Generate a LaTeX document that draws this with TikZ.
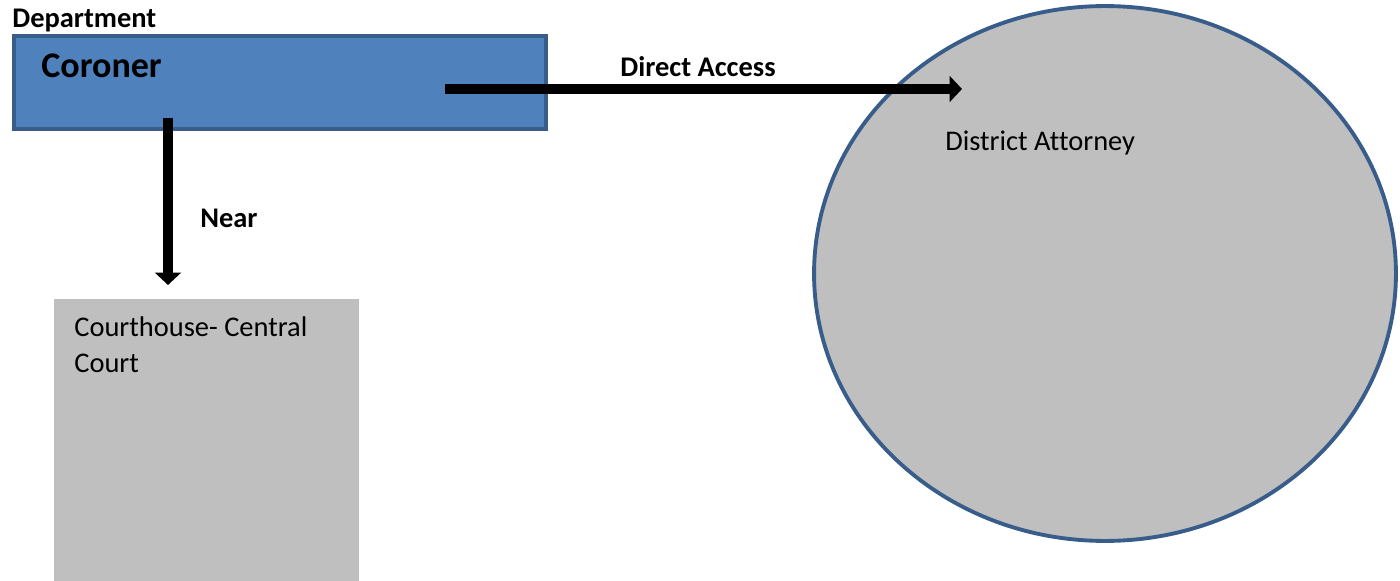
\documentclass[tikz,border=0pt]{standalone}
\usepackage{fontspec}
\setmainfont{Carlito}[Ligatures=NoCommon]
\usetikzlibrary{arrows.meta,shapes.geometric}
\definecolor{coronerblue}{HTML}{4F81BD}
\definecolor{edgeblue}{HTML}{385D8A}
\definecolor{placegrey}{HTML}{BFBFBF}
\begin{document}
\begin{tikzpicture}[x=0.02cm, y=-0.02cm,
    lbl/.style={anchor=base west, inner sep=0pt, font=\fontsize{16.2}{20.5}\selectfont},
    boldlbl/.style={anchor=base west, inner sep=0pt, font=\fontsize{16.2}{20.5}\selectfont\bfseries},
    link/.style={line width=5.7pt, -{Triangle[length=7pt, width=14.5pt]}}]
                \useasboundingbox (0,0) rectangle (1400,581);
                % places
                \node [draw=edgeblue, fill=coronerblue, line width=1.9pt, minimum width=10.64cm, minimum height=1.86cm] (coroner) at (280,82.5) {};
                \node [fill=placegrey, inner sep=0pt, anchor=north west, minimum width=6.1cm, minimum height=5.64cm] (courthouse) at (54,299) {};
                \node [ellipse, draw=edgeblue, fill=placegrey, line width=2.2pt, minimum width=11.64cm, minimum height=10.7cm] (attorney) at (1105,273.5) {};
                % texts
                \node [boldlbl] (dept) at (12,28) {Department};
                \node [boldlbl, font=\fontsize{20.5}{24}\selectfont\bfseries] (coronertext) at (41,78) {Coroner};
                \node [lbl, anchor=north west, align=left] (courttext) at (74,316) {Courthouse- Central\\Court};
                \node [lbl] (attorneytext) at (945,151) {District Attorney};
                % links
                \coordinate (accessfrom) at (445,89);
                \coordinate (accessto) at (962,89);
                \coordinate (nearfrom) at (168,118);
                \coordinate (nearto) at (168,285);
                \draw [link] (accessfrom) -- (accessto);
                \draw [link] (nearfrom) -- (nearto);
                \node [boldlbl] (accesslabel) at (620,77) {Direct Access};
                \node [boldlbl] (nearlabel) at (200,227) {Near};
\end{tikzpicture}
\end{document}
